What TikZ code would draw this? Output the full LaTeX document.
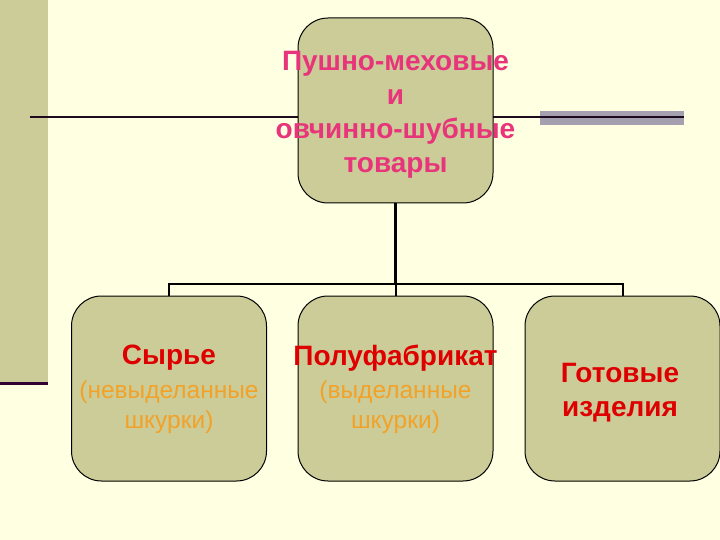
\documentclass[tikz,border=0pt]{standalone}
\usepackage{fontspec}
\setmainfont{Liberation Sans}
\definecolor{bg}{RGB}{255,255,226}
\definecolor{olive}{RGB}{204,204,153}
\definecolor{pinktxt}{RGB}{232,52,122}
\definecolor{redtxt}{RGB}{222,0,0}
\definecolor{orangetxt}{RGB}{242,162,40}
\definecolor{darkline}{RGB}{30,10,30}
\definecolor{purpleline}{RGB}{50,0,50}
\definecolor{graybar}{RGB}{165,160,175}
\tikzset{
  box/.style={draw=black, line width=1pt, fill=olive, rounded corners=30pt,
    minimum width=195pt, minimum height=185pt, inner sep=0pt},
  conn/.style={draw=black, line width=2pt},
  toptext/.style={text=pinktxt, font=\bfseries\fontsize{28}{34}\selectfont, align=center},
  redt/.style={text=redtxt, font=\bfseries\fontsize{28}{34}\selectfont},
  orat/.style={text=orangetxt, font=\fontsize{24.5}{30}\selectfont, align=center}
}
\begin{document}
\begin{tikzpicture}[x=1pt,y=-1pt]
\useasboundingbox (0,0) rectangle (720,540);
\fill[bg] (0,0) rectangle (720,540);
\fill[olive] (0,0) rectangle (48,383);
\draw[purpleline, line width=3pt] (0,383) -- (48,383);
% horizontal line and gray bar
\fill[graybar] (540,111) rectangle (684,125);
\coordinate (hl) at (30,117);
\coordinate (hr) at (684,117);
\draw[darkline, line width=2pt] (hl) -- (hr);
% boxes
\node[box] (top) at (395.5,110.5) {};
\node[box] (b1) at (169,388.5) {};
\node[box] (b2) at (395.5,388.5) {};
\node[box] (b3) at (622.5,388.5) {};
% connectors
\coordinate (bus) at (395.5,284);
\draw[black, line width=3pt] (top.south) -- (bus);
\draw[conn] (b1.north) -- (b1.north |- bus) -- (b3.north |- bus) -- (b3.north);
\draw[conn] (bus) -- (b2.north);
% texts
\node[toptext] (tt) at (395.5,115) {Пушно-меховые\\и\\овчинно-шубные\\товары};
\node[redt] (t1) at (169,358) {Сырье};
\node[orat] (o1) at (169,407) {(невыделанные\\шкурки)};
\node[redt] (t2) at (395.5,358) {Полуфабрикат};
\node[orat] (o2) at (395.5,407) {(выделанные\\шкурки)};
\node[redt, align=center] (t3) at (620,393) {Готовые\\изделия};
\end{tikzpicture}
\end{document}
